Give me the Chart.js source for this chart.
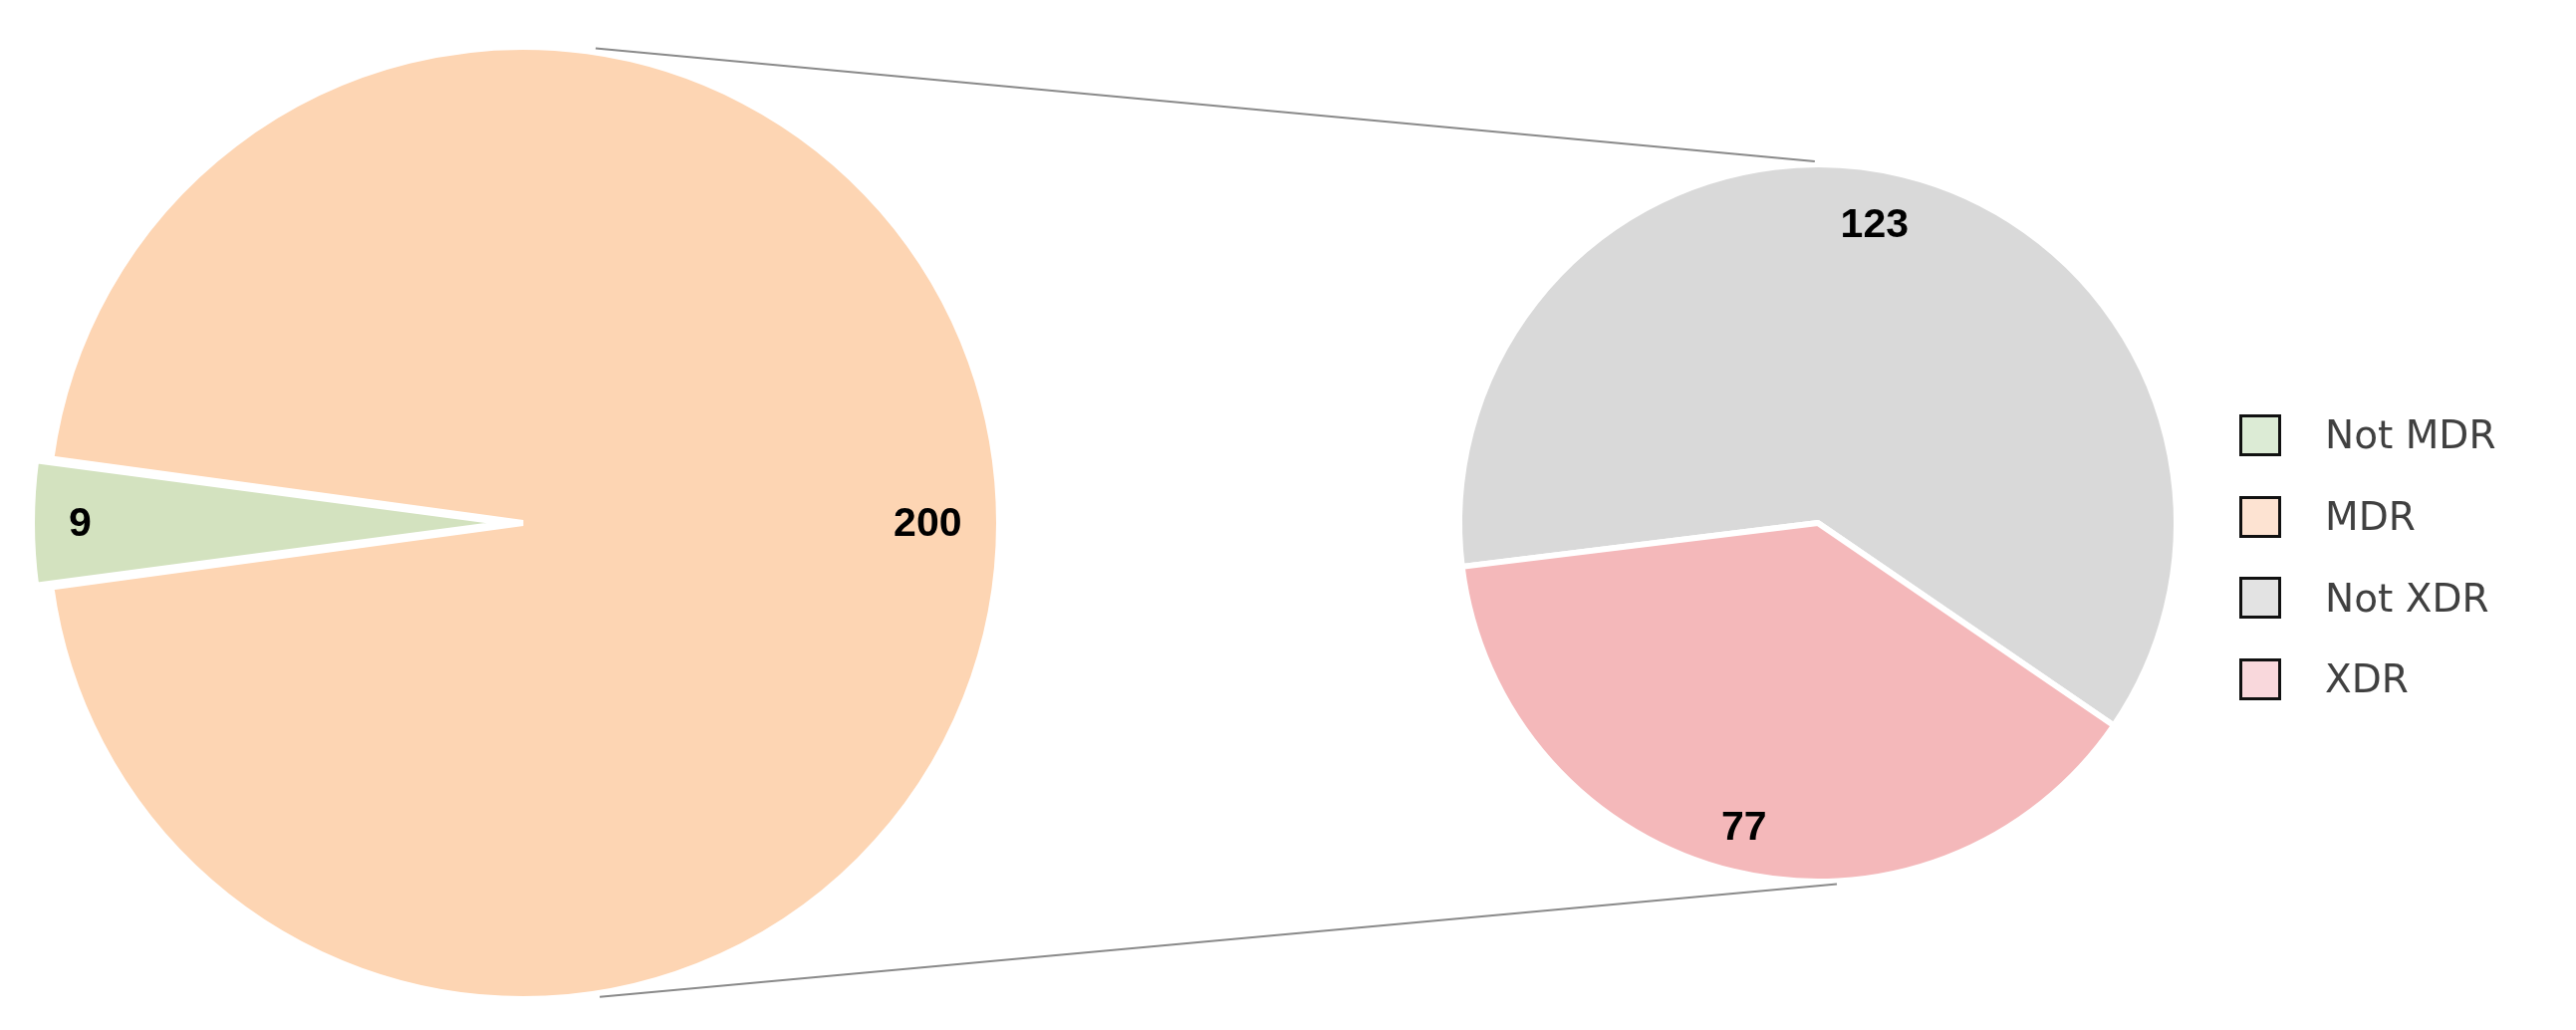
<!DOCTYPE html>
<html><head><meta charset="utf-8">
<script src="https://cdn.jsdelivr.net/npm/chart.js@4.4.0/dist/chart.umd.min.js"></script>
<style>
html,body{margin:0;padding:0;background:#fff;overflow:hidden;}
#wrap{position:relative;width:2586px;height:1034px;overflow:hidden;background:#fff;}
#wrap canvas{position:absolute;left:0;top:0;}
#legend{position:absolute;left:2248px;top:396px;font-family:"DejaVu Sans",sans-serif;font-size:39px;color:#404040;}
#legend .row{height:81.7px;display:flex;align-items:center;}
#legend .box{width:42px;height:42px;box-sizing:border-box;border:3px solid #111;}
#legend .txt{margin-left:44px;white-space:nowrap;}
</style></head><body>
<div id="wrap">
<canvas id="leftPie" width="1100" height="1100"></canvas>
<canvas id="rightPie" width="2586" height="1034"></canvas>
<div id="legend"></div>
</div>
<script>
// ---- data ----
const mainLabels = ['Not MDR', 'MDR'];
const mainValues = [9, 200];
const subLabels = ['Not XDR', 'XDR'];
const subValues = [123, 77];
const legendLabels = ['Not MDR', 'MDR', 'Not XDR', 'XDR'];

// ---- styles ----
const mainColors = ['#d3e2bf', '#fdd5b3'];
const subColors = ['#d9d9d9', '#f4b8ba'];
const legendColors = ['#dcebd5', '#fde3d2', '#e3e3e3', '#f9d8dc'];
const BW = 6;

// slice label plugin
const sliceLabels = {
  id: 'sliceLabels',
  afterDatasetsDraw(chart, args, opts) {
    const ctx = chart.ctx;
    const meta = chart.getDatasetMeta(0);
    const ds = chart.data.datasets[0];
    ctx.save();
    ctx.font = 'bold 41px "Liberation Sans", Arial, sans-serif';
    ctx.fillStyle = '#000';
    ctx.textAlign = 'center';
    ctx.textBaseline = 'middle';
    meta.data.forEach((arc, i) => {
      const mid = (arc.startAngle + arc.endAngle) / 2 + (opts.nudge ? opts.nudge[i] : 0) * Math.PI / 180;
      const off = (arc.options.offset || 0) / 4;
      const d = off + opts.fractions[i] * arc.outerRadius;
      ctx.fillText(String(ds.data[i]), arc.x + Math.cos(mid) * d, arc.y + Math.sin(mid) * d + 2);
    });
    ctx.restore();
  }
};

// keep exploded slice radius equal to the rest
const radiusFix = {
  id: 'radiusFix',
  afterDatasetsUpdate(chart) {
    const meta = chart.getDatasetMeta(0);
    meta.data.forEach(arc => {
      const o = (arc.options && arc.options.offset) || 0;
      if (o) {
        const circ = arc.endAngle - arc.startAngle;
        const fix = 1 - Math.sin(Math.min(Math.PI, circ));
        arc.outerRadius -= (o / 4) * fix;
      }
    });
  }
};

const mainSliceDeg = mainValues[0] / mainValues.reduce((a, b) => a + b, 0) * 360;

const leftChart = new Chart(document.getElementById('leftPie'), {
  type: 'pie',
  data: {
    labels: mainLabels,
    datasets: [{
      data: mainValues,
      backgroundColor: mainColors,
      borderColor: '#ffffff',
      borderWidth: BW,
      hoverBorderWidth: BW,
      offset: [60, 0],
      hoverOffset: 0
    }]
  },
  options: {
    responsive: false,
    animation: false,
    rotation: 270 - mainSliceDeg / 2,
    layout: { padding: { left: 14, top: 14, right: 64, bottom: 64 } },
    plugins: {
      legend: { display: false },
      tooltip: { enabled: false },
      sliceLabels: { fractions: [0.92, 0.85] }
    }
  },
  plugins: [radiusFix, sliceLabels]
});

// connector lines between the two pies
const connectors = {
  id: 'connectors',
  afterDraw(chart) {
    const la = leftChart.getDatasetMeta(0).data[1];
    const ra = chart.getDatasetMeta(0).data[0];
    const LR = la.outerRadius, RR = ra.outerRadius;
    const deg = Math.PI / 180;
    const ctx = chart.ctx;
    ctx.save();
    ctx.strokeStyle = '#8a8a8a';
    ctx.lineWidth = 2;
    const pairs = [[-81.3, -90.5], [80.8, 87]];
    pairs.forEach(([a1, a2]) => {
      ctx.beginPath();
      ctx.moveTo(la.x + Math.cos(a1 * deg) * (LR + 4), la.y + Math.sin(a1 * deg) * (LR + 4));
      ctx.lineTo(ra.x + Math.cos(a2 * deg) * (RR + 3), ra.y + Math.sin(a2 * deg) * (RR + 3));
      ctx.stroke();
    });
    ctx.restore();
  }
};

const rightChart = new Chart(document.getElementById('rightPie'), {
  type: 'pie',
  data: {
    labels: subLabels,
    datasets: [{
      data: subValues,
      backgroundColor: subColors,
      borderColor: '#ffffff',
      borderWidth: BW,
      hoverBorderWidth: BW,
      hoverOffset: 0
    }]
  },
  options: {
    responsive: false,
    animation: false,
    rotation: 263,
    layout: { padding: { left: 1462, top: 162, right: 398, bottom: 146 } },
    plugins: {
      legend: { display: false },
      tooltip: { enabled: false },
      sliceLabels: { fractions: [0.85, 0.87], nudge: [-3, 0] }
    }
  },
  plugins: [sliceLabels, connectors]
});

// legend
const leg = document.getElementById('legend');
legendLabels.forEach((t, i) => {
  const row = document.createElement('div');
  row.className = 'row';
  const b = document.createElement('div');
  b.className = 'box';
  b.style.background = legendColors[i];
  const s = document.createElement('span');
  s.className = 'txt';
  s.textContent = t;
  row.appendChild(b); row.appendChild(s);
  leg.appendChild(row);
});
</script>
</body></html>
